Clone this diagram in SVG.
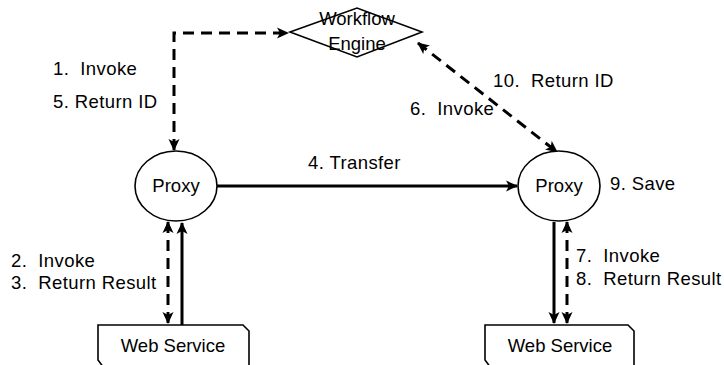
<svg xmlns="http://www.w3.org/2000/svg" width="724" height="365" viewBox="0 0 724 365" xml:space="preserve">
<style>
text{font-family:"Liberation Sans",Arial,sans-serif;font-size:18.5px;fill:#000;white-space:pre}
.lbl{letter-spacing:0.4px}
.shape{fill:#fff;stroke:#000;stroke-width:1.6}
.dash{fill:none;stroke:#000;stroke-width:3;stroke-dasharray:11 7}
.solid{fill:none;stroke:#000;stroke-width:3}
</style>
<defs>
<marker id="ah" viewBox="0 0 12 12" refX="11" refY="6" markerWidth="12" markerHeight="12" markerUnits="userSpaceOnUse" orient="auto-start-reverse">
<path d="M0,0.5 L12,6 L0,11.5 L3,6 Z" fill="#000"/>
</marker>
</defs>
<rect width="724" height="365" fill="#fff"/>
<g id="connectors">
<path class="dash" d="M174,150 V33 H288" marker-start="url(#ah)" marker-end="url(#ah)"/>
<path class="dash" d="M418,43 L557,152" marker-start="url(#ah)" marker-end="url(#ah)"/>
<path class="solid" d="M217,186 H517" marker-end="url(#ah)"/>
<path class="dash" d="M168,222 V323" marker-start="url(#ah)" marker-end="url(#ah)"/>
<path class="solid" d="M182,325 V223" marker-end="url(#ah)"/>
<path class="solid" d="M554,222 V323" marker-end="url(#ah)"/>
<path class="dash" d="M567,222 V323" marker-start="url(#ah)" marker-end="url(#ah)"/>
</g>
<g id="engine">
<polygon points="290,32 357,8 422,32 357,57" style="fill:none;stroke:#000;stroke-width:1.6"/>
<text x="357" y="25" text-anchor="middle">Workflow</text>
<text x="357" y="50" text-anchor="middle">Engine</text>
</g>
<g id="proxy1">
<ellipse class="shape" cx="176" cy="186" rx="41" ry="35"/>
<text x="176" y="192" text-anchor="middle">Proxy</text>
</g>
<g id="proxy2">
<ellipse class="shape" cx="559" cy="186" rx="41" ry="35"/>
<text x="559" y="192" text-anchor="middle">Proxy</text>
</g>
<g id="ws1">
<path class="shape" d="M98,325 H243 L249,331 V368 H104 L98,360 Z"/>
<text x="173" y="352" text-anchor="middle">Web Service</text>
</g>
<g id="ws2">
<path class="shape" d="M485,325 H628 L634,331 V368 H491 L485,360 Z"/>
<text x="560" y="352" text-anchor="middle">Web Service</text>
</g>
<g id="labels">
<text class="lbl" x="53" y="75">1.  Invoke</text>
<text class="lbl" x="53" y="108">5. Return ID</text>
<text class="lbl" x="493" y="87">10.  Return ID</text>
<text class="lbl" x="410" y="115">6.  Invoke</text>
<text class="lbl" x="308" y="169">4. Transfer</text>
<text class="lbl" x="610" y="190">9. Save</text>
<text class="lbl" x="11" y="267">2.  Invoke</text>
<text class="lbl" x="11" y="289">3.  Return Result</text>
<text class="lbl" x="576" y="262">7.  Invoke</text>
<text class="lbl" x="576" y="285">8.  Return Result</text>
</g>
</svg>
